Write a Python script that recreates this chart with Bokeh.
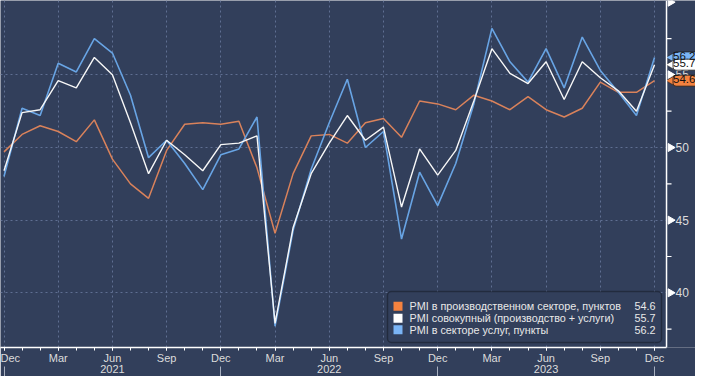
import math
from bokeh.plotting import figure
from bokeh.models import (LinearAxis, FixedTicker, Range1d, Label, BoxAnnotation, Span,
                          ColumnDataSource)
from bokeh.core.properties import value
from bokeh.embed import file_html
from bokeh.resources import INLINE

# ---------------- data ----------------
months = ["Dec 2020", "Jan 2021", "Feb 2021", "Mar 2021", "Apr 2021", "May 2021", "Jun 2021",
          "Jul 2021", "Aug 2021", "Sep 2021", "Oct 2021", "Nov 2021", "Dec 2021",
          "Jan 2022", "Feb 2022", "Mar 2022", "Apr 2022", "May 2022", "Jun 2022",
          "Jul 2022", "Aug 2022", "Sep 2022", "Oct 2022", "Nov 2022", "Dec 2022",
          "Jan 2023", "Feb 2023", "Mar 2023", "Apr 2023", "May 2023", "Jun 2023",
          "Jul 2023", "Aug 2023", "Sep 2023", "Oct 2023", "Nov 2023", "Dec 2023"]

manufacturing = [49.7, 50.9, 51.5, 51.1, 50.4, 51.9, 49.2, 47.5, 46.5, 49.8, 51.6, 51.7, 51.6,
                 51.8, 48.6, 44.1, 48.2, 50.8, 50.9, 50.3, 51.7, 52.0, 50.7, 53.2, 53.0,
                 52.6, 53.6, 53.2, 52.6, 53.5, 52.6, 52.1, 52.7, 54.5, 53.8, 53.8, 54.6]

composite = [48.4, 52.4, 52.6, 54.6, 54.1, 56.2, 55.0, 51.7, 48.2, 50.5, 49.5, 48.4, 50.2,
             50.3, 50.8, 37.9, 44.5, 48.2, 50.3, 52.2, 50.5, 51.4, 45.9, 49.9, 48.1,
             49.8, 53.2, 56.8, 55.1, 54.4, 55.9, 53.3, 55.9, 54.8, 53.9, 52.5, 55.7]

services = [48.0, 52.7, 52.2, 55.8, 55.2, 57.5, 56.5, 53.6, 49.3, 50.5, 48.9, 47.1, 49.5,
            49.9, 52.1, 37.7, 44.3, 48.5, 51.7, 54.7, 50.0, 51.1, 43.7, 48.3, 46.0,
            48.9, 53.0, 58.2, 55.9, 54.5, 56.8, 54.1, 57.6, 55.3, 53.8, 52.2, 56.2]

series_names = ["PMI в производственном секторе, пунктов",
                "PMI совокупный (производство + услуги)",
                "PMI в секторе услуг, пункты"]

year_labels = ["2021", "2022", "2023"]
y_ticks = [40, 45, 50, 55]
y_arrow_ticks = [40, 45, 50, 55, 60]
y_minor_ticks = [37.5, 42.5, 47.5, 52.5, 57.5]

# ---------------- style ----------------
BG = "#323f5b"
GRID = "#5f6f92"
TXT = "#dcdcdc"
FONT = "Liberation Sans"
ORANGE_LINE, ORANGE_TAG = "#d9825b", "#f4823f"
BLUE_LINE, BLUE_TAG = "#68a4e4", "#7ab4f5"
WHITE_LINE, WHITE_TAG = "#f7f7f7", "#ffffff"

W, H, BOTTOM = 695, 376, 29
PX = 18.07                      # pixels per month
PY = 14.53                      # pixels per index point
X0 = -3.5 / PX                  # left edge of the plot
XAX = 36 + 12 / PX              # position of the value axis
x_end = X0 + W / PX
Y_TOP = 50 + 147 / PY
Y_BOT = Y_TOP - (H - BOTTOM) / PY

x = list(range(len(months)))
src = ColumnDataSource(dict(x=x, m=manufacturing, c=composite, s=services))

p = figure(width=W, height=H, x_range=Range1d(X0, x_end), y_range=Range1d(Y_BOT, Y_TOP),
           output_backend="svg", toolbar_location=None, y_axis_location=None,
           min_border_left=0, min_border_top=0, min_border_right=0, min_border_bottom=BOTTOM,
           background_fill_color=BG, border_fill_color=BG, outline_line_color=None)

p.line("x", "m", source=src, color=ORANGE_LINE, line_width=1.5)
p.line("x", "s", source=src, color=BLUE_LINE, line_width=1.6)
p.line("x", "c", source=src, color=WHITE_LINE, line_width=1.4)

# month axis
quarter_ticks = [i for i in x if months[i][:3] in ("Dec", "Mar", "Jun", "Sep")]
xt = FixedTicker(ticks=quarter_ticks, minor_ticks=x)
xa = p.xaxis[0]
xa.ticker = xt
xa.bounds = (X0, XAX)
xa.major_label_overrides = {i: months[i][:3] for i in quarter_ticks}
xa.axis_line_color = "white"
xa.axis_line_width = 1.5
xa.major_tick_line_color = "white"
xa.minor_tick_line_color = "white"
xa.major_tick_out = 3
xa.minor_tick_out = 3
xa.major_tick_in = 0
xa.minor_tick_in = 0
xa.major_label_standoff = 1
xa.major_label_text_color = TXT
xa.major_label_text_font = FONT
xa.major_label_text_font_size = "11px"

# year axis (labels at June, separators at December)
jun_ticks = [i for i in x if months[i][:3] == "Jun"]
dec_ticks = [i for i in x if months[i][:3] == "Dec"]
ya2 = LinearAxis(ticker=FixedTicker(ticks=jun_ticks, minor_ticks=dec_ticks),
                 major_label_overrides={t: yl for t, yl in zip(jun_ticks, year_labels)},
                 axis_line_color=None, major_tick_line_color=None,
                 minor_tick_line_color="#a7afbf", minor_tick_out=14, minor_tick_in=0,
                 major_tick_out=0, major_tick_in=0, major_label_standoff=-16,
                 major_label_text_color=TXT, major_label_text_font=FONT,
                 major_label_text_font_size="11px")
p.add_layout(ya2, "below")

# grids
yt = FixedTicker(ticks=y_ticks, minor_ticks=y_minor_ticks)
p.xgrid.ticker = xt
p.ygrid.ticker = yt
for g in (p.xgrid, p.ygrid):
    g.grid_line_color = GRID
    g.grid_line_dash = "2 3"
    g.grid_line_width = 1
p.xgrid.bounds = (X0, XAX)
try:
    p.ygrid.cross_bounds = (X0, XAX)
    covered = True
except Exception:
    covered = False

# value axis on the right edge of the data area
if not covered:
    p.add_layout(BoxAnnotation(left=XAX, fill_color=BG, fill_alpha=1, line_color=None,
                               level="underlay"))
p.add_layout(Span(location=XAX, dimension="height", line_color="white", line_width=1.5))
p.segment(x0=[XAX] * len(y_minor_ticks), y0=y_minor_ticks,
          x1=[XAX + 5 / PX] * len(y_minor_ticks), y1=y_minor_ticks,
          line_color="white", line_width=1.2)
p.scatter(x=[XAX + 4 / PX] * len(y_arrow_ticks), y=y_arrow_ticks, marker="triangle",
          angle=-math.pi / 2, size=8, fill_color="white", line_color="white")
p.text(x=[XAX + 9 / PX] * len(y_ticks), y=y_ticks, text=[str(t) for t in y_ticks],
       text_baseline="middle", text_font=value(FONT), text_font_size="12px", text_color=TXT)

# end-of-series tags
FRAME_AX = (XAX - X0) * PX     # axis position in frame pixels
tags = [(services[-1], BLUE_TAG), (composite[-1], WHITE_TAG), (manufacturing[-1], ORANGE_TAG)]
for val, fc in tags:
    p.scatter(x=[XAX + 4.5 / PX], y=[val], marker="triangle", angle=math.pi / 2, size=9,
              fill_color=fc, line_color="#1e1e1e", line_width=0.6)
    p.add_layout(Label(x=FRAME_AX + 6.5, y=val, x_units="screen", y_units="data", text=f"{val}",
                       text_baseline="middle", text_font=FONT, text_font_size="11.5px",
                       text_color="#111111", background_fill_color=fc, background_fill_alpha=1,
                       border_line_color="#1e1e1e", border_line_width=0.8,
                       padding=[0, 8, 0, 3], border_radius=3))

# legend (screen units relative to the data frame)
FB = H - BOTTOM
p.add_layout(BoxAnnotation(left=387, right=661, top=FB - 291, bottom=FB - 342,
                           left_units="screen", right_units="screen", top_units="screen",
                           bottom_units="screen", fill_color=BG, fill_alpha=1,
                           line_color="#000000", line_width=1.5, border_radius=4))
rows_y = [FB - 305.7, FB - 317.7, FB - 329.3]
tag_colors = [ORANGE_TAG, WHITE_TAG, BLUE_TAG]
last_vals = [manufacturing[-1], composite[-1], services[-1]]
for ry, col, name, val in zip(rows_y, tag_colors, series_names, last_vals):
    p.add_layout(BoxAnnotation(left=393, right=402, top=ry + 4.5, bottom=ry - 4.5,
                               left_units="screen", right_units="screen", top_units="screen",
                               bottom_units="screen", fill_color=col, fill_alpha=1, line_color=None))
    p.add_layout(Label(x=409, y=ry, x_units="screen", y_units="screen", text=name,
                       text_baseline="middle", text_font=FONT, text_font_size="10.8px",
                       text_color="#e8e8e8"))
    p.add_layout(Label(x=655, y=ry, x_units="screen", y_units="screen", text=f"{val}",
                       text_baseline="middle", text_align="right", text_font=FONT,
                       text_font_size="10.8px", text_color="#e8e8e8"))

open("out.html", "w").write(file_html(p, INLINE))
